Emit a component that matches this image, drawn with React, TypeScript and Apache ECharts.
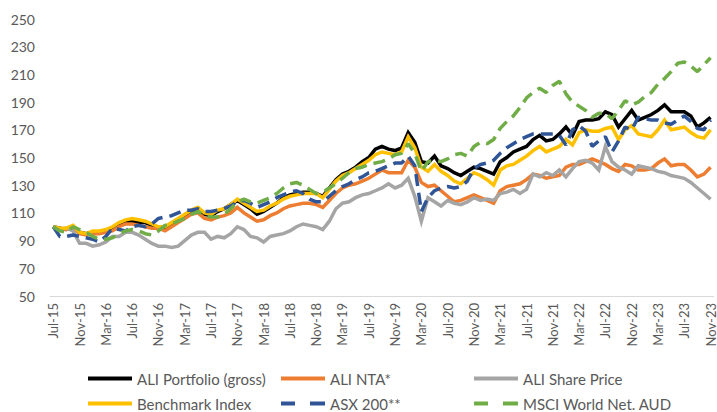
import React, { useEffect, useRef } from "react";
import * as echarts from "echarts";

const MONTH_NAMES = ["Jan", "Feb", "Mar", "Apr", "May", "Jun", "Jul", "Aug", "Sep", "Oct", "Nov", "Dec"];
// Monthly categories Jul-15 .. Nov-23
const categories: string[] = [];
for (let k = 0; k < 101; k++) {
  const m = (6 + k) % 12;
  const y = 15 + Math.floor((6 + k) / 12);
  categories.push(`${MONTH_NAMES[m]}-${y}`);
}

const yTicks = { min: 50, max: 250, step: 20 };

const portfolio = [
  100, 99, 98, 100, 96, 95, 96, 96, 97, 99,
  102, 104, 104, 103, 103, 101, 99, 99, 102, 105,
  108, 111, 113, 109, 108, 111, 113, 116, 119, 116,
  113, 109, 111, 114, 117, 121, 123, 124, 125, 125,
  124, 122, 128, 134, 138, 140, 143, 147, 150, 156,
  158, 156, 155, 157, 168, 161, 147, 146, 151, 144,
  142, 139, 137, 140, 143, 142, 140, 138, 147, 150,
  154, 156, 158, 163, 166, 162, 163, 167, 172, 166,
  176, 177, 177, 178, 183, 181, 172, 178, 184, 177,
  179, 181, 184, 188, 183, 183, 183, 180, 172, 175,
  179,
];

const nta = [
  100, 98, 98, 100, 95, 94, 95, 95, 96, 97,
  100, 102, 102, 101, 100, 99, 99, 97, 100, 103,
  106, 109, 110, 106, 105, 107, 108, 110, 114, 110,
  107, 104, 105, 108, 110, 113, 115, 116, 117, 117,
  116, 114, 119, 124, 128, 130, 131, 133, 135, 138,
  141, 139, 139, 139, 148, 143, 132, 129, 130, 126,
  122, 118, 119, 121, 123, 121, 119, 117, 126, 129,
  130, 131, 134, 138, 137, 135, 136, 137, 143, 145,
  145, 147, 149, 147, 145, 142, 140, 145, 144, 141,
  141, 142, 146, 149, 144, 145, 145, 141, 136, 138,
  143,
];

const sharePrice = [
  100, 98, 99, 97, 88, 88, 86, 87, 89, 93,
  93, 96, 96, 94, 91, 88, 86, 86, 85, 86,
  90, 94, 96, 96, 91, 93, 92, 95, 100, 98,
  93, 92, 89, 93, 94, 95, 97, 100, 102, 101,
  100, 98, 104, 113, 117, 118, 121, 123, 124, 126,
  128, 131, 128, 130, 135, 122, 104, 121, 118, 115,
  119, 117, 116, 118, 121, 119, 120, 119, 124, 125,
  127, 124, 127, 138, 136, 139, 137, 141, 136, 142,
  147, 148, 146, 141, 158, 147, 143, 141, 138, 144,
  143, 142, 140, 139, 137, 136, 135, 132, 128, 124,
  120,
];

const benchmark = [
  100, 99, 99, 101, 96, 95, 97, 97, 98, 100,
  103, 105, 106, 105, 104, 102, 100, 100, 103, 106,
  109, 112, 114, 110, 109, 112, 113, 116, 120, 117,
  114, 111, 112, 115, 117, 120, 122, 123, 124, 124,
  124, 121, 127, 133, 137, 139, 142, 145, 148, 152,
  154, 153, 152, 154, 165, 157, 143, 140, 145, 140,
  137, 133, 131, 135, 139, 137, 134, 130, 141, 144,
  145, 148, 151, 155, 158, 154, 156, 158, 163, 159,
  168, 170, 169, 169, 171, 172, 163, 170, 173, 167,
  166, 165, 170, 177, 170, 171, 172, 168, 165, 164,
  170,
];

const asx200 = [
  100, 93, 93, 94, 93, 92, 91, 89, 93, 99,
  98, 97, 100, 101, 100, 102, 106, 107, 108, 110,
  112, 112, 113, 111, 111, 112, 113, 115, 118, 119,
  117, 114, 116, 118, 121, 123, 125, 126, 124, 120,
  118, 118, 122, 126, 129, 131, 134, 136, 139, 140,
  142, 144, 146, 146, 151, 144, 111, 121, 126, 128,
  129, 128, 129, 133, 142, 145, 146, 148, 153, 157,
  160, 163, 165, 167, 167, 167, 167, 166, 159, 170,
  173, 169, 158, 162, 165, 154, 162, 172, 170, 179,
  178, 177, 177, 175, 174, 177, 180, 176, 171, 170,
  177,
];

const msciWorld = [
  100, 97, 96, 100, 98, 96, 93, 91, 91, 92,
  95, 97, 98, 97, 95, 94, 97, 101, 102, 104,
  106, 109, 111, 108, 107, 107, 109, 113, 118, 120,
  118, 117, 119, 121, 124, 128, 131, 132, 130, 127,
  124, 125, 128, 131, 135, 139, 142, 143, 145, 146,
  147, 149, 152, 153, 160, 153, 140, 147, 148, 147,
  149, 152, 153, 151, 158, 161, 160, 163, 171, 176,
  180, 186, 193, 197, 200, 197, 202, 205, 196, 190,
  187, 184, 179, 182, 182, 178, 184, 191, 188, 190,
  194, 197, 203, 207, 212, 218, 219, 216, 212, 217,
  222,
];

const FONT = "Lato";
const TEXT_COLOR = "#595959";

const SOLID_ICON = "path://M0,0h44v4h-44z";
const DASH_ICON = "path://M0,0h14v4h-14zM29,0h15v4h-15z";

export default function App() {
  const ref = useRef<HTMLDivElement>(null);

  useEffect(() => {
    if (!ref.current) return;
    const chart = echarts.init(ref.current, undefined, { renderer: "svg" });

    const solid = (name: string, data: number[], color: string) => ({
      name,
      type: "line",
      data,
      symbol: "none",
      lineStyle: { color, width: 3.5, cap: "butt", join: "miter" },
      itemStyle: { color },
    });
    const dashed = (name: string, data: number[], color: string) => ({
      name,
      type: "line",
      data,
      symbol: "none",
      lineStyle: { color, width: 3.5, type: [12, 7], cap: "butt" },
      itemStyle: { color },
    });

    const legendItem = (name: string, icon: string, left: number, top: number) => ({
      orient: "horizontal",
      left,
      top,
      itemWidth: 44,
      itemHeight: 4,
      padding: 0,
      selectedMode: false,
      textStyle: { color: TEXT_COLOR, fontSize: 15, fontFamily: FONT },
      data: [{ name, icon }],
    });

    chart.setOption({
      animation: false,
      textStyle: { fontFamily: FONT },
      grid: { left: 50, right: -4.65, top: 19, bottom: 116, containLabel: false },
      xAxis: {
        type: "category",
        data: categories,
        boundaryGap: true,
        axisLine: { lineStyle: { color: "#d9d9d9", width: 1 } },
        axisTick: { interval: 3, length: 5, lineStyle: { color: "#d9d9d9" } },
        axisLabel: {
          interval: 3,
          rotate: 90,
          color: TEXT_COLOR,
          fontSize: 13,
          fontFamily: FONT,
          margin: 7,
        },
        splitLine: { show: false },
      },
      yAxis: {
        type: "value",
        min: yTicks.min,
        max: yTicks.max,
        interval: yTicks.step,
        axisLine: { show: false },
        axisTick: { show: false },
        splitLine: { show: false },
        axisLabel: { color: TEXT_COLOR, fontSize: 14, fontFamily: FONT, margin: 15 },
      },
      legend: [
        legendItem("ALI Portfolio (gross)", SOLID_ICON, 88, 371),
        legendItem("ALI NTA*", SOLID_ICON, 281, 371),
        legendItem("ALI Share Price", SOLID_ICON, 474, 371),
        legendItem("Benchmark Index", SOLID_ICON, 88, 396),
        legendItem("ASX 200**", DASH_ICON, 281, 396),
        legendItem("MSCI World Net. AUD", DASH_ICON, 474, 396),
      ],
      series: [
        solid("ALI Portfolio (gross)", portfolio, "#000000"),
        solid("ALI NTA*", nta, "#ED7D31"),
        solid("ALI Share Price", sharePrice, "#A5A5A5"),
        solid("Benchmark Index", benchmark, "#FFC000"),
        dashed("ASX 200**", asx200, "#2F5597"),
        dashed("MSCI World Net. AUD", msciWorld, "#70AD47"),
      ],
    });

    return () => chart.dispose();
  }, []);

  return (
    <div
      ref={ref}
      style={{ position: "fixed", left: 0, top: 0, width: 717, height: 412, background: "#ffffff" }}
    />
  );
}
